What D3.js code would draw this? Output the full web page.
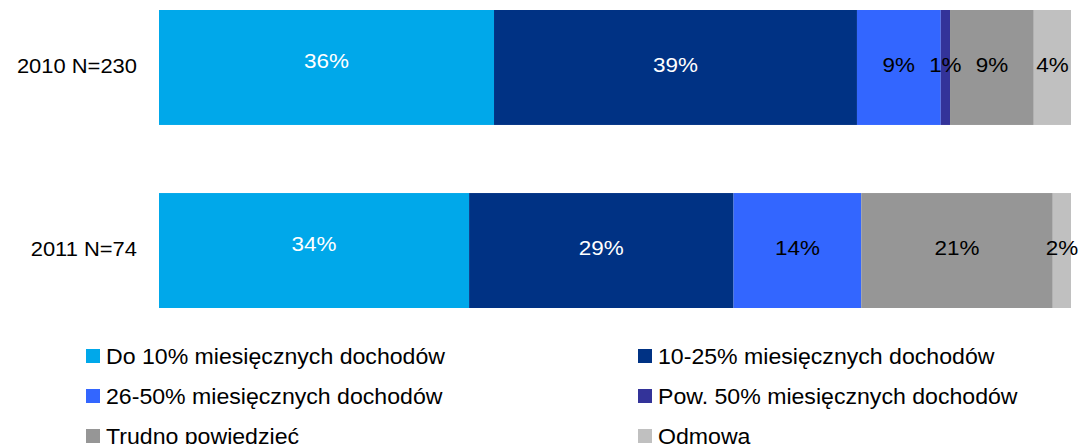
<!DOCTYPE html>
<html>
<head>
<meta charset="utf-8">
<script src="https://cdn.jsdelivr.net/npm/d3@7"></script>
<style>
  body { margin: 0; background: #fff; }
  text { font-family: "Liberation Sans", Arial, sans-serif; }
</style>
</head>
<body>
<div id="chart"></div>
<script>
// categories (rows) and series shares
var categories = ["2010 N=230", "2011 N=74"];
var seriesNames = [
    "Do 10% miesięcznych dochodów",
    "10-25% miesięcznych dochodów",
    "26-50% miesięcznych dochodów",
    "Pow. 50% miesięcznych dochodów",
    "Trudno powiedzieć",
    "Odmowa"
];
var do10 = [36, 34];
var od10do25 = [39, 29];
var od26do50 = [9, 14];
var pow50 = [1, 0];
var trudno = [9, 21];
var odmowa = [4, 2];

var colors = ["#00A8EA", "#003284", "#3366FF", "#333399", "#969696", "#C0C0C0"];
var labelColors = ["#fff", "#fff", "#000", "#000", "#000", "#000"];

var width = 1081, height = 444;
// source picture is stretched sideways, so draw narrower and stretch
var SX = 1.07;
var px = x => x / SX;

var svg = d3.select("#chart").append("svg")
    .attr("width", width)
    .attr("height", height)
    .attr("viewBox", "0 0 " + (width / SX) + " " + height)
    .attr("preserveAspectRatio", "none");

var rows = categories.map((c, i) => {
    var r = {cat: c};
    r[seriesNames[0]] = do10[i];
    r[seriesNames[1]] = od10do25[i];
    r[seriesNames[2]] = od26do50[i];
    r[seriesNames[3]] = pow50[i];
    r[seriesNames[4]] = trudno[i];
    r[seriesNames[5]] = odmowa[i];
    return r;
});

var stack = d3.stack()
    .keys(seriesNames)
    .offset(d3.stackOffsetExpand);
var stacked = stack(rows);

var x = d3.scaleLinear().domain([0, 1]).range([px(159), px(1071)]);
var y = d3.scaleBand().domain(categories).range([10, 308]).paddingInner(0.372).paddingOuter(0);

var layer = svg.append("g")
    .selectAll("g")
    .data(stacked)
    .join("g")
    .attr("fill", (d, i) => colors[i]);

layer.selectAll("rect")
    .data(d => d)
    .join("rect")
    .attr("x", d => x(d[0]))
    .attr("width", d => x(d[1]) - x(d[0]))
    .attr("y", d => y(d.data.cat))
    .attr("height", y.bandwidth());

// value labels
stacked.forEach((s, i) => {
    svg.append("g")
        .selectAll("text")
        .data(s.filter(d => d.data[s.key] > 0))
        .join("text")
        .attr("x", d => (x(d[0]) + x(d[1])) / 2)
        .attr("y", d => y(d.data.cat) + y.bandwidth() / 2 - (i == 0 ? 7 : 3))
        .attr("dy", "0.35em")
        .attr("text-anchor", "middle")
        .attr("font-size", 21)
        .attr("fill", labelColors[i])
        .text(d => d.data[s.key] + "%");
});

// category labels
svg.append("g")
    .selectAll("text")
    .data(categories)
    .join("text")
    .attr("x", px(137))
    .attr("y", d => y(d) + y.bandwidth() / 2 - 2)
    .attr("dy", "0.35em")
    .attr("text-anchor", "end")
    .attr("font-size", 20.5)
    .attr("fill", "#000")
    .text(d => d);

// legend, two columns
var legend = svg.append("g")
    .selectAll("g")
    .data(seriesNames)
    .join("g")
    .attr("transform", (d, i) => {
        var col = i % 2, row = Math.floor(i / 2);
        return "translate(" + px(col == 0 ? 86 : 638) + "," + (356 + row * 40) + ")";
    });

legend.append("rect")
    .attr("x", 0)
    .attr("y", -7)
    .attr("width", px(14))
    .attr("height", 14)
    .attr("fill", (d, i) => colors[i]);

legend.append("text")
    .attr("x", px(20))
    .attr("y", 0)
    .attr("dy", "0.35em")
    .attr("font-size", 21.6)
    .attr("fill", "#000")
    .text(d => d);
</script>
</body>
</html>
